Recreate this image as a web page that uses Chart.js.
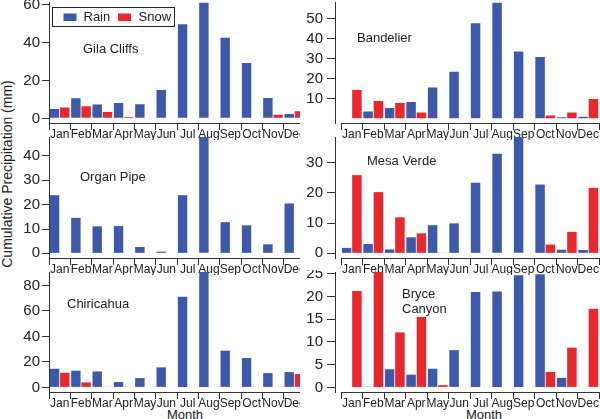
<!DOCTYPE html>
<html>
<head>
<meta charset="utf-8">
<script src="https://cdn.jsdelivr.net/npm/chart.js@4"></script>
<style>
  html, body { margin: 0; padding: 0; background: #fff; }
  #fig { position: relative; width: 600px; height: 419px; overflow: hidden;
         font-family: "Liberation Sans", Arial, Helvetica, sans-serif; color: #222; }
  .panel { position: absolute; overflow: hidden; }
  .panel canvas { position: absolute; left: 0; top: 0; }
  .month { position: absolute; top: 407.5px; font-size: 13px; line-height: 13px;
           transform: translateX(-50%); white-space: nowrap; }
  #ytitle { position: absolute; left: 7px; top: 174px; font-size: 14px; line-height: 14px;
            white-space: nowrap; transform: translate(-50%, -50%) rotate(-90deg); }
</style>
</head>
<body>
<div id="fig">
  <div id="ytitle">Cumulative Precipitation (mm)</div>
  <div class="month" style="left:185px">Month</div>
  <div class="month" style="left:484px">Month</div>
</div>
<script>
// Monthly rain / snow per park (mm)
const months = ['Jan', 'Feb', 'Mar', 'Apr', 'May', 'Jun', 'Jul', 'Aug', 'Sep', 'Oct', 'Nov', 'Dec'];

const gilaRain = [5.0, 10.6, 7.3, 8.1, 7.4, 15.0, 49.6, 61.1, 42.5, 29.2, 10.8, 2.3];
const gilaSnow = [5.7, 6.4, 3.4, 0.7, 0, 0, 0, 0, 0, 0, 1.9, 3.7];
const gilaTicks = [0, 10, 20, 30, 40, 50, 60];
const gilaLabels = [0, 20, 40, 60];

const bandelierRain = [0, 3.4, 5.2, 8.2, 15.5, 23.4, 47.9, 58.3, 33.6, 30.9, 0.5, 0.8];
const bandelierSnow = [14.3, 8.7, 7.7, 2.9, 0, 0, 0, 0, 0, 1.5, 3.0, 9.7];
const bandelierTicks = [10, 20, 30, 40, 50];

const organRain = [23.9, 14.6, 11.1, 11.2, 2.6, 0.7, 23.9, 47.8, 12.8, 11.5, 3.7, 20.5];
const organSnow = [0, 0, 0, 0, 0, 0, 0, 0, 0, 0, 0, 0];
const organTicks = [0, 10, 20, 30, 40];

const mesaRain = [1.8, 3.1, 1.3, 5.3, 9.3, 9.9, 23.3, 32.9, 38.4, 22.7, 1.2, 1.1];
const mesaSnow = [25.8, 20.2, 11.9, 6.6, 0.2, 0, 0, 0, 0, 2.9, 7.1, 21.6];
const mesaTicks = [0, 10, 20, 30];

const chiriRain = [14.6, 13.1, 12.5, 4.2, 7.3, 15.7, 71.1, 90.5, 28.8, 23.0, 11.2, 12.0];
const chiriSnow = [11.5, 3.9, 0.3, 0.3, 0, 0, 0, 0, 0, 0, 0.3, 10.5];
const chiriTicks = [0, 20, 40, 60, 80];

const bryceRain = [0, 0.15, 4.0, 2.8, 4.1, 8.2, 21.0, 21.1, 24.7, 24.9, 2.1, 0];
const bryceSnow = [21.2, 25.4, 12.1, 15.5, 0.5, 0, 0, 0, 0, 3.4, 8.75, 17.3];
const bryceTicks = [0, 5, 10, 15, 20, 25];

const FONT = '"Liberation Sans", Arial, Helvetica, sans-serif';
const INK = '#222';
const AXIS = '#333';
const RAIN_COLOR = '#3d59a9';
const SNOW_COLOR = '#e8282d';

// grid layout (page px)
const cols = [
  { left: 0, clip: 300, width: 310, axisW: 49, padRight: 5, shift: 0, tickLen: 7, tickPad: 2 },
  { left: 300, clip: 300, width: 300, axisW: 35, padRight: 1, shift: 6, tickLen: 8, tickPad: 4 }
];
const rows = [
  { top: 0, height: 140, padTop: 2.5, axisH: 17 },
  { top: 135, height: 140, padTop: 2, axisH: 17 },
  { top: 270, height: 149, padTop: 2, axisH: 27 }
];

const panels = [
  { name: ['Gila Cliffs'], at: [83, 53], row: 0, col: 0, rain: gilaRain, snow: gilaSnow, ticks: gilaTicks, labels: gilaLabels, legend: true },
  { name: ['Bandelier'], at: [357, 42], row: 0, col: 1, rain: bandelierRain, snow: bandelierSnow, ticks: bandelierTicks, labels: bandelierTicks },
  { name: ['Organ Pipe'], at: [80, 181], row: 1, col: 0, rain: organRain, snow: organSnow, ticks: organTicks, labels: organTicks },
  { name: ['Mesa Verde'], at: [367, 165], row: 1, col: 1, rain: mesaRain, snow: mesaSnow, ticks: mesaTicks, labels: mesaTicks },
  { name: ['Chiricahua'], at: [67, 308], row: 2, col: 0, rain: chiriRain, snow: chiriSnow, ticks: chiriTicks, labels: chiriTicks },
  { name: ['Bryce', 'Canyon'], at: [402, 298], row: 2, col: 1, rain: bryceRain, snow: bryceSnow, ticks: bryceTicks, labels: bryceTicks }
];

// move the category axis a little right of the value axis (right column)
const shiftX = {
  id: 'shiftX',
  afterLayout(chart, args, opts) {
    if (!opts.dx) return;
    const x = chart.scales.x;
    x.left += opts.dx;
    x.width -= opts.dx;
    x.configure();
  }
};

// panel name and the boxed legend
const decor = {
  id: 'decor',
  afterDraw(chart, args, o) {
    const ctx = chart.ctx;
    ctx.save();
    ctx.fillStyle = INK;
    ctx.font = '13px ' + FONT;
    ctx.textBaseline = 'alphabetic';
    o.name.forEach((line, i) => ctx.fillText(line, o.x, o.y + i * 15));
    if (o.legend) {
      const ds = chart.data.datasets;
      ctx.strokeStyle = INK;
      ctx.lineWidth = 1;
      ctx.strokeRect(52.5, 7.5, 122, 19);
      [[63.5, 83.5], [118, 138.5]].forEach(([bx, tx], i) => {
        ctx.fillStyle = ds[i].backgroundColor;
        ctx.fillRect(bx, 13.5, 13, 7.5);
        ctx.fillStyle = INK;
        ctx.fillText(ds[i].label, tx, 21);
      });
    }
    ctx.restore();
  }
};

const fig = document.getElementById('fig');

panels.forEach(p => {
  const col = cols[p.col];
  const row = rows[p.row];
  const box = document.createElement('div');
  box.className = 'panel';
  box.style.left = col.left + 'px';
  box.style.top = row.top + 'px';
  box.style.width = col.clip + 'px';
  box.style.height = row.height + 'px';
  const canvas = document.createElement('canvas');
  canvas.width = col.width;
  canvas.height = row.height;
  box.appendChild(canvas);
  fig.appendChild(box);

  const yMax = Math.max(...p.rain, ...p.snow);

  new Chart(canvas, {
    type: 'bar',
    data: {
      labels: months,
      datasets: [
        { label: 'Rain', data: p.rain, backgroundColor: RAIN_COLOR, categoryPercentage: 0.96, barPercentage: 0.92 },
        { label: 'Snow', data: p.snow, backgroundColor: SNOW_COLOR, categoryPercentage: 0.96, barPercentage: 0.92 }
      ]
    },
    options: {
      responsive: false,
      animation: false,
      layout: { padding: { top: row.padTop, right: col.padRight, bottom: 0, left: 0 } },
      plugins: {
        legend: { display: false },
        tooltip: { enabled: false },
        shiftX: { dx: col.shift },
        decor: { name: p.name, x: p.at[0] - col.left, y: p.at[1] - row.top, legend: !!p.legend }
      },
      scales: {
        x: {
          offset: true,
          grid: { offset: true, drawOnChartArea: false, tickLength: 7, color: AXIS },
          border: { color: AXIS },
          ticks: { font: { family: FONT, size: 12 }, color: INK, padding: -3, maxRotation: 0, autoSkip: false },
          afterFit: s => { s.height = row.axisH; s.paddingLeft = 0; s.paddingRight = 0; }
        },
        y: {
          min: -0.04 * yMax,
          max: yMax,
          afterBuildTicks: s => { s.ticks = p.ticks.map(v => ({ value: v })); },
          grid: { drawOnChartArea: false, tickLength: col.tickLen, color: AXIS },
          border: { color: AXIS },
          ticks: {
            font: { family: FONT, size: 15 },
            color: INK,
            padding: col.tickPad,
            callback: v => (p.labels.includes(v) ? String(v) : '')
          },
          afterFit: s => { s.width = col.axisW; s.paddingTop = 0; s.paddingBottom = 0; }
        }
      }
    },
    plugins: [shiftX, decor]
  });
});
</script>
</body>
</html>
